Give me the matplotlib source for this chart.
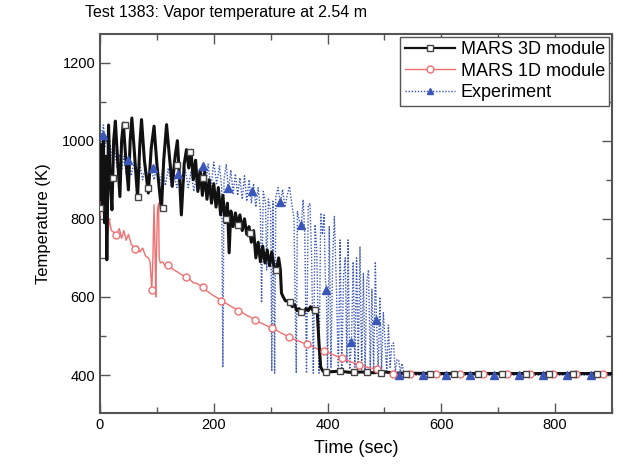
import matplotlib
matplotlib.use("Agg")
import matplotlib.pyplot as plt
from matplotlib.ticker import MultipleLocator

plt.rcParams['font.family'] = ['Liberation Sans', 'DejaVu Sans']

# ---------------- data ----------------
# MARS 3D module (black)
m3d_t = [0, 2, 4, 6, 8, 10, 12, 15, 18, 21, 24, 27, 31, 35, 38, 41, 45, 50, 53, 56,
         60, 66, 70, 73, 78, 85, 90, 95, 100, 104, 108, 112, 117, 122, 127, 132, 136, 140,
         143, 148, 152, 156, 160, 164, 168, 172, 176, 180, 184, 188, 192, 196, 200, 204,
         208, 212, 216, 220, 224, 227, 230, 234, 238, 242, 246, 250, 254, 258, 262, 266,
         270, 274, 278, 282, 286, 290, 294, 298, 302, 306, 310, 314, 317, 319, 322, 326,
         330, 334, 338, 342, 346, 350, 354, 358, 362, 366, 370, 374, 378, 382, 385, 388,
         392, 400, 420, 440, 460, 480, 500, 520, 600, 700, 800, 900]
m3d_T = [850, 990, 830, 1000, 790, 960, 695, 1040, 900, 823, 1000, 1050, 950, 857, 1000,
         1045, 960, 874, 1000, 1058, 980, 854, 990, 1054, 950, 866, 980, 1037, 940, 880,
         823, 950, 1041, 960, 883, 960, 1000, 900, 810, 940, 977, 930, 972, 900, 950, 870,
         925, 860, 920, 850, 900, 840, 890, 830, 880, 810, 860, 790, 840, 713, 820, 780,
         815, 785, 810, 770, 800, 760, 780, 740, 770, 700, 740, 690, 730, 687, 720, 680,
         715, 677, 669, 700, 670, 610, 600, 590, 590, 588, 575, 580, 565, 570, 562, 560,
         570, 565, 575, 566, 567, 560, 480, 420, 410, 408, 410, 407, 408, 406, 408, 405,
         404, 404, 404, 404]
m3d_mk_t = [0, 23, 44, 67, 85, 111, 135, 158, 181, 221, 243, 264, 310, 334,
            354, 378, 398, 422, 446, 470, 494, 538, 580, 622, 664, 706, 748, 790,
            832, 874]
m3d_mk_T = [828, 905, 1041, 857, 878, 828, 938, 972, 905, 800, 785, 764, 669,
            588, 562, 567, 408, 410, 407, 408, 406, 404, 404, 404, 404, 404, 404, 404,
            404, 404]

# MARS 1D module (red)
m1d_t = [0, 1, 3, 6, 8, 10, 11, 12, 14, 16, 20, 25, 29, 34, 38, 42, 46, 50, 55, 61.5,
         66, 70, 75, 80, 85, 88, 91, 93, 95, 97, 98, 99, 101, 103, 104, 106, 110, 114,
         119.5, 125, 130, 135, 140, 146, 152, 158, 164, 170, 175, 181, 188, 195, 200, 206,
         213, 220, 228, 235, 243, 250, 258, 265, 272, 280, 288, 295, 303, 310, 318, 325,
         333, 340, 348, 356, 364, 372, 380, 387, 394, 402, 410, 418, 425, 433, 441, 448,
         456, 464, 472, 480, 487, 495, 503, 510, 515, 540, 600, 700, 800, 900]
m1d_T = [810, 915, 920, 890, 905, 870, 730, 900, 760, 800, 770, 765, 759, 775, 750, 770,
         745, 760, 735, 723, 730, 715, 725, 705, 700, 690, 618, 700, 836, 700, 600, 700,
         823, 840, 700, 687, 690, 680, 682, 675, 669, 665, 660, 655, 651, 645, 636, 635,
         630, 626, 615, 608, 603, 598, 590, 585, 578, 572, 565, 560, 553, 548, 541, 535,
         530, 525, 520, 515, 508, 503, 497, 492, 488, 483, 479, 474, 468, 465, 462, 457,
         452, 447, 443, 438, 434, 430, 426, 423, 419, 417, 415, 411, 408, 405, 403, 402,
         402, 402, 402, 402]
m1d_mk_t = [29, 61.5, 91, 119.5, 152, 181, 213, 243, 272, 303, 333, 364, 394, 425, 456,
            487, 515, 545, 590, 632, 673, 715, 755, 796, 836, 884]
m1d_mk_T = [759, 723, 618, 682, 651, 626, 590, 565, 541, 520, 497, 479, 462, 443, 426,
            415, 403, 402, 402, 402, 402, 402, 402, 402, 402, 402]

# Experiment (blue)
exp_t = [0, 3, 6, 9, 12, 15, 18, 22, 26, 30, 34, 38, 42, 46, 50, 55, 60, 65, 70, 75, 80,
         85, 90, 95, 100, 105, 110, 115, 120, 125, 130, 135, 140, 145, 150, 155, 160, 165,
         170, 175, 180, 185, 190, 195, 200, 205, 210, 214, 216, 218, 222, 226, 230, 234,
         238, 242, 246, 250, 254, 258, 262, 266, 270, 274, 278, 282, 284, 287, 291, 293,
         296, 300, 302, 304, 307, 309, 313, 317, 321, 325, 329, 333, 337, 341, 345, 347,
         351, 354, 357, 360, 363, 366, 369, 372, 375, 378, 381, 385, 388, 391, 394, 396,
         398, 400, 403, 406, 409, 412, 416, 419, 422, 425, 428, 431, 434, 436, 439, 442,
         445, 448, 451, 454, 457, 460, 463, 466, 469, 472, 475, 478, 481, 484, 486, 489,
         492, 495, 498, 501, 504, 507, 510, 513, 516, 519, 522, 525, 528, 531, 534, 540,
         600, 700, 800, 900]
exp_T = [1035, 1010, 1040, 985, 1010, 960, 990, 950, 975, 930, 965, 925, 960, 915, 950,
         910, 945, 905, 940, 900, 935, 895, 930, 900, 935, 890, 925, 885, 930, 885, 920,
         880, 915, 875, 925, 880, 920, 870, 915, 875, 935, 870, 940, 880, 945, 890, 935,
         880, 420, 900, 940, 870, 925, 865, 915, 860, 905, 850, 910, 845, 900, 840, 890,
         830, 880, 820, 585, 870, 840, 669, 850, 820, 410, 845, 405, 855, 880, 840, 875,
         830, 860, 883, 840, 800, 405, 820, 790, 785, 849, 760, 405, 830, 840, 700, 405,
         785, 720, 405, 815, 760, 810, 650, 618, 405, 780, 420, 700, 806, 600, 405, 746,
         410, 650, 700, 430, 746, 415, 485, 690, 420, 700, 430, 729, 415, 660, 410, 640,
         669, 420, 620, 410, 690, 541, 410, 600, 415, 560, 490, 410, 528, 420, 477, 482,
         410, 440, 438, 408, 430, 405, 400, 400, 400, 400, 400]
exp_mk_t = [5.6, 49.6, 93.6, 137.6, 181.6, 225.6, 266.5, 316, 354, 398, 442, 486, 525,
            567, 609, 651, 693, 736, 779, 821, 863]
exp_mk_T = [1015, 950, 930, 915, 935, 880, 870, 844, 785, 618, 485, 541, 400, 400, 400,
            400, 400, 400, 400, 400, 400]

title = "Test 1383: Vapor temperature at 2.54 m"
xlabel = "Time (sec)"
ylabel = "Temperature (K)"

# ---------------- figure ----------------
fig = plt.figure(figsize=(6.23, 4.72), dpi=100)
ax = fig.add_axes([100 / 623, 1 - 413 / 472, 512 / 623, (413 - 34) / 472])

c_blk = '#111111'
c_red = '#f07070'
c_blu = '#3a56b8'

ax.plot(exp_t, exp_T, color=c_blu, lw=1.0, ls=(0, (1, 1.2)), zorder=2)
ax.plot(m1d_t, m1d_T, color=c_red, lw=1.0, zorder=3)
ax.plot(m3d_t, m3d_T, color=c_blk, lw=2.2, zorder=4)

ax.plot(exp_mk_t, exp_mk_T, ls='none', marker='^', ms=5.5, color=c_blu, zorder=5)
ax.plot(m1d_mk_t, m1d_mk_T, ls='none', marker='o', ms=5, mfc='white', mec=c_red,
        mew=1.0, zorder=6)
ax.plot(m3d_mk_t, m3d_mk_T, ls='none', marker='s', ms=4.5, mfc='white', mec='#444444',
        mew=1.0, zorder=7)

# legend proxies
h1, = ax.plot([], [], color=c_blk, lw=1.6, marker='s', ms=4, mfc='white', mec='#444444')
h2, = ax.plot([], [], color=c_red, lw=1.0, marker='o', ms=5, mfc='white', mec=c_red)
h3, = ax.plot([], [], color=c_blu, lw=1.0, ls=(0, (1, 1.2)), marker='^', ms=5)
leg = ax.legend([h1, h2, h3], ["MARS 3D module", "MARS 1D module", "Experiment"],
                loc='upper right', fontsize=13, frameon=True, fancybox=False,
                edgecolor='#555555', framealpha=1, borderpad=0.25, labelspacing=0.25,
                handlelength=2.8, handletextpad=0.3, borderaxespad=0.15, numpoints=1)
leg.get_frame().set_linewidth(1.0)

ax.set_xlim(0, 900)
ax.set_ylim(303, 1273)
ax.xaxis.set_major_locator(MultipleLocator(200))
ax.xaxis.set_minor_locator(MultipleLocator(100))
ax.yaxis.set_major_locator(MultipleLocator(200))
ax.yaxis.set_minor_locator(MultipleLocator(100))
ax.tick_params(which='both', direction='in', top=True, right=True, color='#555555',
               labelsize=10.5, width=1.0)
ax.tick_params(which='major', length=7)
ax.tick_params(which='minor', length=4)
for s in ax.spines.values():
    s.set_color('#555555')
    s.set_linewidth(1.5)

ax.set_xlabel(xlabel, fontsize=13, labelpad=6)
ax.set_ylabel(ylabel, fontsize=12, labelpad=8)
fig.text(85 / 623, 1 - 12 / 472, title, fontsize=11.5, ha='left', va='center')

fig.savefig("out.png", dpi=100)
